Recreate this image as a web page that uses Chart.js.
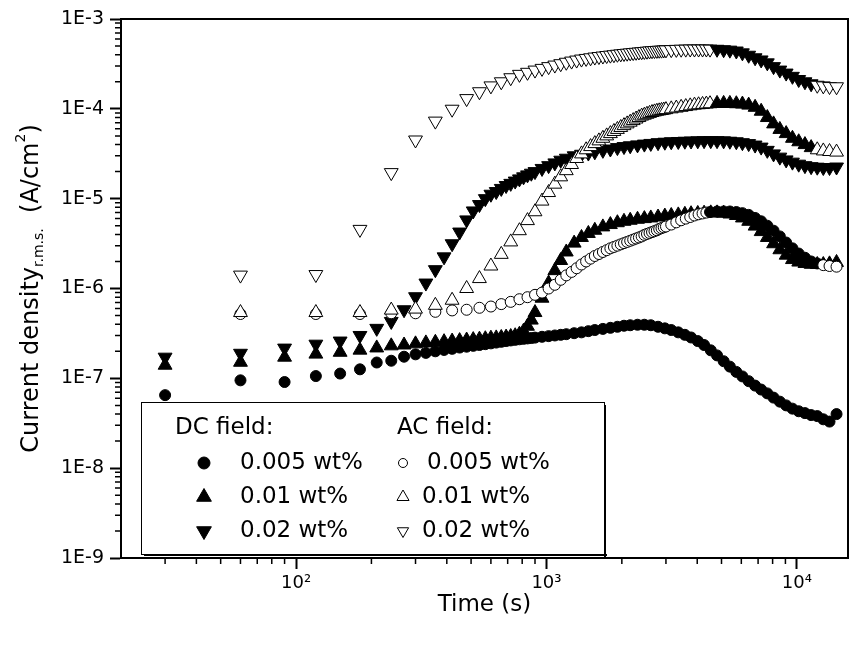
<!DOCTYPE html>
<html>
<head>
<meta charset="utf-8">
<script src="https://cdn.jsdelivr.net/npm/chart.js@4.4.1/dist/chart.umd.min.js"></script>
<style>
html, body { margin: 0; padding: 0; background: #fff; }
canvas { display: block; }
</style>
</head>
<body>
<canvas id="chart" width="851" height="649"></canvas>
<script>
// time (s) of the DC runs (a reading per 30 s early on) and of the AC runs (per 60 s)
const dcTime = [30, 60, 90, 120, 150, 180, 210, 240, 270, 300, 330, 360, 390, 420, 450, 480, 510, 540, 570, 600,
  630, 660, 690, 720, 750, 780, 810, 840, 870, 900, 960, 1020, 1080, 1140, 1200, 1290, 1380, 1470, 1560, 1680,
  1800, 1920, 2040, 2160, 2310, 2460, 2610, 2790, 2970, 3150, 3360, 3570, 3780, 4020, 4260, 4530, 4800, 5100, 5400, 5730,
  6060, 6420, 6810, 7200, 7620, 8070, 8550, 9060, 9600, 10170, 10770, 11400, 12060, 12750, 13500, 14400];
const acTime = [60, 120, 180, 240, 300, 360, 420, 480, 540, 600, 660, 720, 780, 840, 900, 960, 1020, 1080, 1140, 1200,
  1260, 1320, 1380, 1440, 1500, 1560, 1620, 1680, 1740, 1800, 1860, 1920, 1980, 2040, 2100, 2160, 2220, 2280, 2340, 2400,
  2460, 2520, 2580, 2640, 2700, 2760, 2820, 2880, 2940, 3000, 3150, 3300, 3450, 3600, 3750, 3900, 4050, 4200, 4350, 4500,
  4800, 5100, 5400, 5730, 6060, 6420, 6810, 7200, 7620, 8070, 8550, 9060, 9600, 10170, 10770, 11400, 12060, 12750, 13500, 14400];

// current density r.m.s. (A/cm2), DC field
const dc005 = [6.5e-8, 9.5e-8, 9.1e-8, 1.06e-7, 1.13e-7, 1.26e-7, 1.5e-7, 1.57e-7, 1.74e-7, 1.85e-7, 1.92e-7, 2.0e-7, 2.07e-7, 2.13e-7, 2.2e-7, 2.25e-7, 2.3e-7, 2.35e-7, 2.4e-7, 2.45e-7,
  2.5e-7, 2.55e-7, 2.6e-7, 2.64e-7, 2.68e-7, 2.72e-7, 2.75e-7, 2.78e-7, 2.81e-7, 2.84e-7, 2.9e-7, 2.95e-7, 3.0e-7, 3.05e-7, 3.1e-7, 3.18e-7, 3.25e-7, 3.35e-7, 3.45e-7, 3.55e-7,
  3.65e-7, 3.75e-7, 3.85e-7, 3.9e-7, 3.95e-7, 3.95e-7, 3.9e-7, 3.75e-7, 3.6e-7, 3.45e-7, 3.25e-7, 3.05e-7, 2.85e-7, 2.6e-7, 2.35e-7, 2.05e-7, 1.8e-7, 1.55e-7, 1.35e-7, 1.18e-7,
  1.05e-7, 9.3e-8, 8.3e-8, 7.5e-8, 6.8e-8, 6.1e-8, 5.5e-8, 5.0e-8, 4.6e-8, 4.3e-8, 4.1e-8, 3.9e-8, 3.8e-8, 3.5e-8, 3.3e-8, 4.0e-8];
const dc01 = [1.4e-7, 1.51e-7, 1.72e-7, 1.86e-7, 1.95e-7, 2.06e-7, 2.18e-7, 2.3e-7, 2.35e-7, 2.42e-7, 2.48e-7, 2.52e-7, 2.56e-7, 2.6e-7, 2.63e-7, 2.67e-7, 2.7e-7, 2.73e-7, 2.76e-7, 2.8e-7,
  2.82e-7, 2.85e-7, 2.88e-7, 2.92e-7, 2.98e-7, 3.1e-7, 3.35e-7, 3.8e-7, 4.45e-7, 5.4e-7, 7.8e-7, 1.15e-6, 1.58e-6, 2.05e-6, 2.55e-6, 3.2e-6, 3.7e-6, 4.1e-6, 4.45e-6, 4.85e-6,
  5.15e-6, 5.4e-6, 5.6e-6, 5.75e-6, 5.9e-6, 6.0e-6, 6.1e-6, 6.25e-6, 6.4e-6, 6.5e-6, 6.6e-6, 6.7e-6, 6.8e-6, 6.85e-6, 6.9e-6, 6.95e-6, 6.95e-6, 6.9e-6, 6.75e-6, 6.5e-6,
  6.1e-6, 5.6e-6, 4.95e-6, 4.3e-6, 3.7e-6, 3.15e-6, 2.7e-6, 2.35e-6, 2.1e-6, 1.97e-6, 1.9e-6, 1.86e-6, 1.85e-6, 1.85e-6, 1.88e-6, 1.95e-6];
const dc02 = [1.72e-7, 1.9e-7, 2.17e-7, 2.4e-7, 2.6e-7, 3.0e-7, 3.6e-7, 4.3e-7, 5.8e-7, 8.1e-7, 1.15e-6, 1.62e-6, 2.25e-6, 3.15e-6, 4.25e-6, 5.8e-6, 7.3e-6, 8.6e-6, 1.0e-5, 1.12e-5,
  1.2e-5, 1.3e-5, 1.4e-5, 1.48e-5, 1.57e-5, 1.66e-5, 1.75e-5, 1.84e-5, 1.92e-5, 2.0e-5, 2.17e-5, 2.33e-5, 2.5e-5, 2.68e-5, 2.82e-5, 3.0e-5, 3.12e-5, 3.22e-5, 3.32e-5, 3.45e-5,
  3.57e-5, 3.7e-5, 3.8e-5, 3.88e-5, 3.97e-5, 4.05e-5, 4.12e-5, 4.2e-5, 4.25e-5, 4.3e-5, 4.33e-5, 4.36e-5, 4.38e-5, 4.4e-5, 4.42e-5, 4.42e-5, 4.42e-5, 4.4e-5, 4.36e-5, 4.3e-5,
  4.2e-5, 4.1e-5, 3.95e-5, 3.75e-5, 3.45e-5, 3.15e-5, 2.9e-5, 2.7e-5, 2.55e-5, 2.42e-5, 2.33e-5, 2.27e-5, 2.24e-5, 2.22e-5, 2.22e-5, 2.25e-5];

// AC field
const ac005 = [5.2e-7, 5.2e-7, 5.2e-7, 5.3e-7, 5.3e-7, 5.5e-7, 5.7e-7, 5.8e-7, 6.1e-7, 6.3e-7, 6.7e-7, 7.1e-7, 7.6e-7, 8.0e-7, 8.5e-7, 9.0e-7, 1.0e-6, 1.1e-6, 1.25e-6, 1.4e-6,
  1.53e-6, 1.68e-6, 1.85e-6, 2.0e-6, 2.15e-6, 2.3e-6, 2.42e-6, 2.55e-6, 2.67e-6, 2.8e-6, 2.9e-6, 3.0e-6, 3.1e-6, 3.2e-6, 3.3e-6, 3.4e-6, 3.5e-6, 3.6e-6, 3.7e-6, 3.8e-6,
  3.95e-6, 4.05e-6, 4.15e-6, 4.25e-6, 4.35e-6, 4.45e-6, 4.6e-6, 4.7e-6, 4.8e-6, 4.9e-6, 5.15e-6, 5.45e-6, 5.75e-6, 6.0e-6, 6.25e-6, 6.5e-6, 6.7e-6, 6.85e-6, 7.0e-6, 7.1e-6,
  7.2e-6, 7.2e-6, 7.2e-6, 7.1e-6, 6.9e-6, 6.6e-6, 6.1e-6, 5.6e-6, 5.0e-6, 4.4e-6, 3.8e-6, 3.25e-6, 2.8e-6, 2.45e-6, 2.2e-6, 2.0e-6, 1.9e-6, 1.82e-6, 1.78e-6, 1.75e-6];
const ac01 = [5.4e-7, 5.4e-7, 5.4e-7, 5.75e-7, 5.9e-7, 6.5e-7, 7.4e-7, 1.0e-6, 1.29e-6, 1.78e-6, 2.4e-6, 3.3e-6, 4.4e-6, 5.7e-6, 7.15e-6, 9.4e-6, 1.17e-5, 1.45e-5, 1.75e-5, 2.05e-5,
  2.4e-5, 2.8e-5, 3.15e-5, 3.5e-5, 3.8e-5, 4.1e-5, 4.4e-5, 4.7e-5, 5.0e-5, 5.3e-5, 5.6e-5, 5.9e-5, 6.2e-5, 6.5e-5, 6.8e-5, 7.1e-5, 7.4e-5, 7.7e-5, 8.0e-5, 8.3e-5,
  8.5e-5, 8.7e-5, 8.9e-5, 9.1e-5, 9.25e-5, 9.4e-5, 9.5e-5, 9.6e-5, 9.7e-5, 9.8e-5, 1.0e-4, 1.02e-4, 1.04e-4, 1.06e-4, 1.08e-4, 1.1e-4, 1.11e-4, 1.12e-4, 1.13e-4, 1.14e-4,
  1.15e-4, 1.15e-4, 1.15e-4, 1.14e-4, 1.13e-4, 1.1e-4, 1.04e-4, 9.4e-5, 8.0e-5, 6.8e-5, 5.9e-5, 5.3e-5, 4.7e-5, 4.3e-5, 4.0e-5, 3.7e-5, 3.5e-5, 3.4e-5, 3.35e-5, 3.3e-5];
const ac02 = [1.41e-6, 1.43e-6, 4.55e-6, 1.95e-5, 4.5e-5, 7.3e-5, 9.9e-5, 1.3e-4, 1.55e-4, 1.8e-4, 2.0e-4, 2.22e-4, 2.42e-4, 2.55e-4, 2.7e-4, 2.82e-4, 2.95e-4, 3.07e-4, 3.18e-4, 3.3e-4,
  3.4e-4, 3.49e-4, 3.58e-4, 3.64e-4, 3.7e-4, 3.77e-4, 3.82e-4, 3.87e-4, 3.92e-4, 3.96e-4, 4.0e-4, 4.05e-4, 4.09e-4, 4.13e-4, 4.16e-4, 4.2e-4, 4.23e-4, 4.26e-4, 4.29e-4, 4.32e-4,
  4.35e-4, 4.38e-4, 4.41e-4, 4.43e-4, 4.45e-4, 4.47e-4, 4.49e-4, 4.5e-4, 4.52e-4, 4.53e-4, 4.56e-4, 4.59e-4, 4.61e-4, 4.62e-4, 4.63e-4, 4.63e-4, 4.63e-4, 4.63e-4, 4.63e-4, 4.62e-4,
  4.6e-4, 4.55e-4, 4.5e-4, 4.4e-4, 4.2e-4, 3.95e-4, 3.7e-4, 3.5e-4, 3.25e-4, 2.95e-4, 2.7e-4, 2.5e-4, 2.3e-4, 2.12e-4, 2.0e-4, 1.9e-4, 1.83e-4, 1.8e-4, 1.77e-4, 1.76e-4];

const xTickValues = [100, 1000, 10000];
const xTickLabels = ['10²', '10³', '10⁴'];
const yTickValues = [1e-9, 1e-8, 1e-7, 1e-6, 1e-5, 1e-4, 1e-3];
const yTickLabels = ['1E-9', '1E-8', '1E-7', '1E-6', '1E-5', '1E-4', '1E-3'];
const concLabels = ['0.005 wt%', '0.01 wt%', '0.02 wt%'];

const FONT = 'DejaVu Sans';

function pts(times, vals) {
  return times.map((t, i) => ({ x: t, y: vals[i] }));
}

// open symbols: where the readings pile up densely the original prints solid black
function openFill(lo, hi) {
  return c => (c.raw && c.raw.x > lo && c.raw.x < hi) ? '#000' : '#fff';
}

function ds(label, times, vals, style, rot, fill, r, order) {
  return {
    label: label,
    data: pts(times, vals),
    pointStyle: style,
    pointRotation: rot,
    pointRadius: r,
    pointBackgroundColor: fill,
    pointBorderColor: '#000',
    pointBorderWidth: 1,
    order: order
  };
}

const datasets = [
  ds('AC ' + concLabels[2], acTime, ac02, 'triangle', 180, openFill(4600, 12000), 8, 0),
  ds('AC ' + concLabels[1], acTime, ac01, 'triangle', 0, openFill(4600, 12000), 8, 1),
  ds('AC ' + concLabels[0], acTime, ac005, 'circle', 0, openFill(4400, 12500), 5.5, 2),
  ds('DC ' + concLabels[2], dcTime, dc02, 'triangle', 180, '#000', 8, 3),
  ds('DC ' + concLabels[1], dcTime, dc01, 'triangle', 0, '#000', 8, 4),
  ds('DC ' + concLabels[0], dcTime, dc005, 'circle', 0, '#000', 5.5, 5)
];

// frame, minor ticks, y title with sub/superscript, boxed legend
const extras = {
  id: 'extras',
  afterDraw(chart) {
    const ctx = chart.ctx, a = chart.chartArea;
    const xs = chart.scales.x, ys = chart.scales.y;
    ctx.save();
    ctx.strokeStyle = '#000';
    ctx.lineWidth = 2;
    ctx.beginPath();
    ctx.moveTo(a.left, a.top);
    ctx.lineTo(a.right, a.top);
    ctx.lineTo(a.right, a.bottom);
    ctx.stroke();

    ctx.lineWidth = 1.5;
    ctx.beginPath();
    for (let k = 1; k <= 4; k++) {
      for (let m = 2; m <= 9; m++) {
        const v = m * Math.pow(10, k);
        if (v <= xs.min || v > xs.max) continue;
        const px = xs.getPixelForValue(v);
        ctx.moveTo(px, a.bottom);
        ctx.lineTo(px, a.bottom + 6);
      }
    }
    for (let k = -9; k < -3; k++) {
      for (let m = 2; m <= 9; m++) {
        const py = ys.getPixelForValue(m * Math.pow(10, k));
        ctx.moveTo(a.left - 6, py);
        ctx.lineTo(a.left, py);
      }
    }
    ctx.stroke();

    // y axis title
    const big = '24px "' + FONT + '"', small = '14px "' + FONT + '"';
    const parts = [
      { t: 'Current density', f: big, dy: 0 },
      { t: 'r.m.s.', f: small, dy: 5 },
      { t: '  (A/cm', f: big, dy: 0 },
      { t: '2', f: small, dy: -13 },
      { t: ')', f: big, dy: 0 }
    ];
    let total = 0;
    parts.forEach(p => { ctx.font = p.f; p.w = ctx.measureText(p.t).width; total += p.w; });
    ctx.translate(38, (a.top + a.bottom) / 2);
    ctx.rotate(-Math.PI / 2);
    ctx.fillStyle = '#000';
    ctx.textBaseline = 'alphabetic';
    ctx.textAlign = 'left';
    let cx = -total / 2;
    parts.forEach(p => { ctx.font = p.f; ctx.fillText(p.t, cx, p.dy); cx += p.w; });
    ctx.setTransform(1, 0, 0, 1, 0, 0);

    // legend box
    const L = { x: a.left + 20, y: a.bottom - 156, w: 463, h: 152 };
    ctx.fillStyle = '#000';
    ctx.fillRect(L.x + 3, L.y + L.h, L.w, 2);
    ctx.fillRect(L.x + L.w, L.y + 3, 2, L.h);
    ctx.fillStyle = '#fff';
    ctx.fillRect(L.x, L.y, L.w, L.h);
    ctx.strokeStyle = '#000';
    ctx.lineWidth = 1;
    ctx.strokeRect(L.x + 0.5, L.y + 0.5, L.w, L.h);

    ctx.font = '23px "' + FONT + '"';
    ctx.fillStyle = '#000';
    ctx.textBaseline = 'middle';
    ctx.fillText('DC field:', L.x + 34, L.y + 26);
    ctx.fillText('AC field:', L.x + 256, L.y + 26);
    const rows = [61, 95, 129];
    const dcStyle = [['circle', 0, 6], ['triangle', 0, 8.5], ['triangle', 180, 8.5]];
    const acStyle = [['circle', 0, 4.5], ['triangle', 0, 7], ['triangle', 180, 6.5]];
    const acTextX = [L.x + 286, L.x + 281, L.x + 281];
    rows.forEach((ry, i) => {
      const y = L.y + ry;
      ctx.fillStyle = '#000';
      ctx.strokeStyle = '#000';
      Chart.helpers.drawPoint(ctx, { pointStyle: dcStyle[i][0], rotation: dcStyle[i][1], radius: dcStyle[i][2], borderWidth: 1 }, L.x + 63, y);
      ctx.fillStyle = '#fff';
      Chart.helpers.drawPoint(ctx, { pointStyle: acStyle[i][0], rotation: acStyle[i][1], radius: acStyle[i][2], borderWidth: 1 }, L.x + 262, y);
      ctx.fillStyle = '#000';
      ctx.fillText(concLabels[i], L.x + 99, y);
      ctx.fillText(concLabels[i], acTextX[i], y);
    });
    ctx.restore();
  }
};

new Chart(document.getElementById('chart'), {
  type: 'scatter',
  data: { datasets: datasets },
  options: {
    responsive: false,
    devicePixelRatio: 1,
    animation: false,
    layout: { autoPadding: false, padding: { top: 19, right: 3, left: 0, bottom: 0 } },
    plugins: { legend: { display: false }, tooltip: { enabled: false } },
    scales: {
      x: {
        type: 'logarithmic',
        min: 20,
        max: 16000,
        afterFit: s => { s.height = 91; s.paddingLeft = 0; s.paddingRight = 0; },
        afterBuildTicks: s => { s.ticks = xTickValues.map(v => ({ value: v })); },
        ticks: {
          autoSkip: false,
          maxRotation: 0,
          padding: 4,
          color: '#000',
          font: { family: FONT, size: 18 },
          callback: v => xTickLabels[xTickValues.indexOf(v)]
        },
        grid: { display: true, drawOnChartArea: false, drawTicks: true, tickLength: 11, tickWidth: 2, tickColor: '#000' },
        border: { display: true, color: '#000', width: 2 },
        title: { display: true, text: 'Time (s)', color: '#000', font: { family: FONT, size: 23 }, padding: { top: 0, bottom: 30 } }
      },
      y: {
        type: 'logarithmic',
        min: 1e-9,
        max: 1e-3,
        afterFit: s => { s.width = 121; s.paddingTop = 0; s.paddingBottom = 0; },
        afterBuildTicks: s => { s.ticks = yTickValues.map(v => ({ value: v })); },
        ticks: {
          autoSkip: false,
          padding: 6,
          color: '#000',
          font: { family: FONT, size: 19 },
          callback: v => yTickLabels[yTickValues.indexOf(v)]
        },
        grid: { display: true, drawOnChartArea: false, drawTicks: true, tickLength: 11, tickWidth: 2, tickColor: '#000' },
        border: { display: true, color: '#000', width: 2 }
      }
    }
  },
  plugins: [extras]
});
</script>
</body>
</html>
